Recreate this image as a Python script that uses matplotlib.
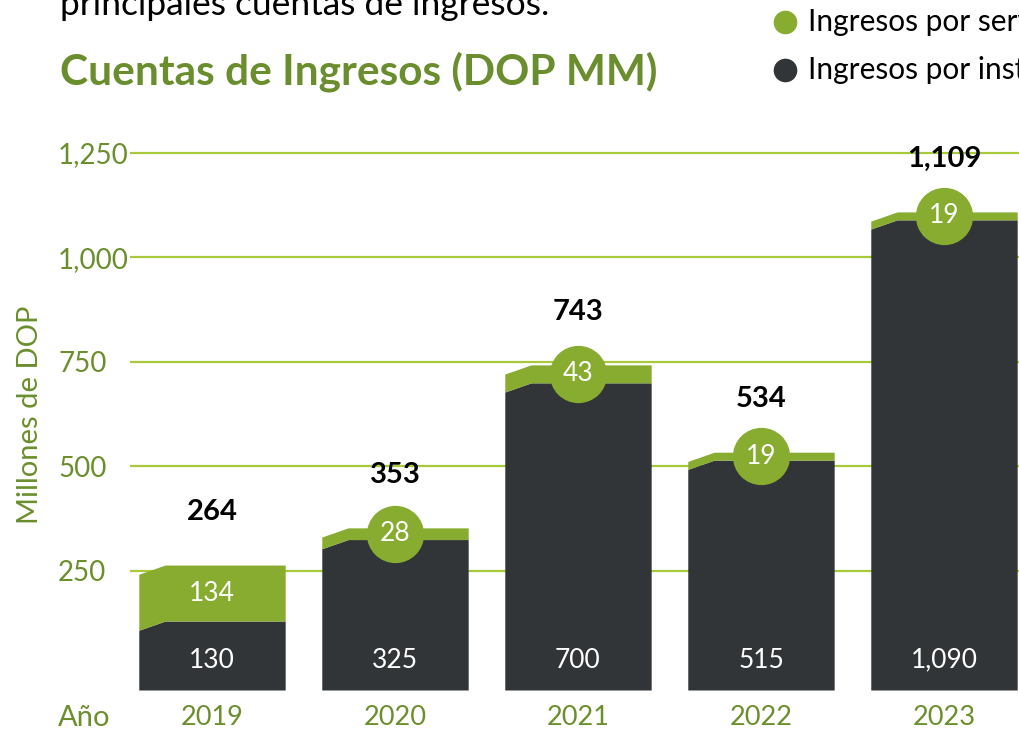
import matplotlib
matplotlib.use("Agg")
import matplotlib.pyplot as plt
import numpy as np
from matplotlib.lines import Line2D

# ---------------- data ----------------
years = ["2019", "2020", "2021", "2022", "2023"]
instrumentos = [130, 325, 700, 515, 1090]
servicios = [134, 28, 43, 19, 19]
dark_labels = ["130", "325", "700", "515", "1,090"]
green_labels = ["134", "28", "43", "19", "19"]
total_labels = ["264", "353", "743", "534", "1,109"]
yticks = [250, 500, 750, 1000, 1250]
ytick_labels = ["250", "500", "750", "1,000", "1,250"]
legend_labels = ["Ingresos por servicios", "Ingresos por instrumentos financieros"]
title = "Cuentas de Ingresos (DOP MM)"
intro = "principales cuentas de ingresos."
ylabel = "Millones de DOP"
xlabel = "Año"

# ---------------- style ----------------
GREEN = "#87ac2f"
DARK = "#323538"
GRID = "#a8ca3a"
OLIVE = "#6b8f2c"
W, H = 1019, 730
FLOOR = -35          # bars are drawn up from the axis floor
YTOP = 1302.6

plt.rcParams['font.family'] = ['Lato', 'DejaVu Sans']
fig = plt.figure(figsize=(W / 100, H / 100), dpi=100)
ax = fig.add_axes([130 / W, 40 / H, 889 / W, 559 / H])

x = np.arange(len(years))
bw = 0.80
slant = 22
cut = 0.18

for i in range(len(years)):
    L, R = x[i] - bw / 2, x[i] + bw / 2
    xs = [L, L + cut * bw, R]
    d = instrumentos[i]
    t = d + servicios[i]
    ax.fill_between(xs, FLOOR, [d - slant, d, d], color=DARK, lw=0, zorder=2)
    ax.fill_between(xs, [d - slant, d, d], [t - slant, t, t], color=GREEN, lw=0, zorder=2)

    mid = d + servicios[i] / 2
    if servicios[i] < 60:
        ax.scatter([x[i]], [mid], s=1700, color=GREEN, linewidths=0, zorder=3)
    ax.text(x[i], mid, green_labels[i], color="white", ha="center", va="center",
            fontsize=19, zorder=4)
    ax.annotate(dark_labels[i], (x[i], FLOOR), xytext=(0, 21.6), textcoords="offset points",
                ha="center", va="center", color="white", fontsize=19, zorder=4)
    ax.annotate(total_labels[i], (x[i], t), xytext=(0, 38), textcoords="offset points",
                ha="center", va="center", color="black", fontsize=21,
                fontweight="bold", zorder=4)

ax.set_xlim(-0.448, 4.41)
ax.set_ylim(FLOOR, YTOP)
ax.set_yticks(yticks, ytick_labels)
ax.set_xticks(x, years)
ax.tick_params(axis="y", length=0, colors=OLIVE, labelsize=20, pad=51.8)
ax.tick_params(axis="x", length=0, colors=OLIVE, labelsize=19.5, pad=11)
for lab in ax.get_yticklabels():
    lab.set_horizontalalignment("left")
ax.yaxis.grid(True, color=GRID, lw=1.6)
ax.xaxis.grid(False)
ax.set_axisbelow(True)
for s in ax.spines.values():
    s.set_visible(False)

fig.text(30 / W, 1 - 415 / H, ylabel, rotation=90, ha="center", va="center",
         color=OLIVE, fontsize=21)
fig.text(58 / W, 1 - 718 / H, xlabel, ha="left", va="center", color=OLIVE, fontsize=21)

fig.text(60 / W, 1 - 84 / H, title, ha="left", va="baseline", color="#6a8e2d",
         fontsize=30.5, fontweight="bold")
fig.text(60 / W, 1 - 15 / H, intro, ha="left", va="baseline", color="black", fontsize=25.5)

for j, (lab, col) in enumerate(zip(legend_labels, [GREEN, DARK])):
    yy = 1 - (22 + 48 * j) / H
    fig.add_artist(Line2D([785 / W], [yy], marker="o", markersize=16, color=col,
                          ls="", transform=fig.transFigure))
    fig.text(808 / W, yy, lab, ha="left", va="center", color="black", fontsize=21.5)

fig.savefig("out.png", dpi=100)
